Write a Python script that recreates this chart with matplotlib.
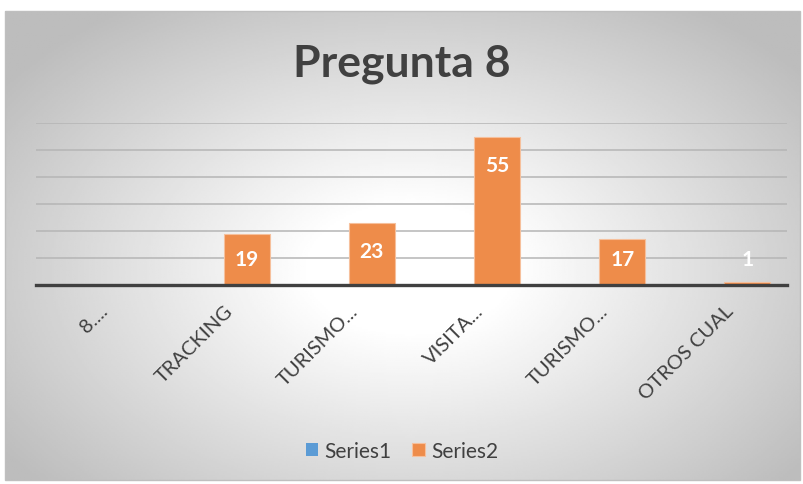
import matplotlib.pyplot as plt
import numpy as np
from matplotlib.patches import Rectangle

categories = ["8....", "TRACKING", "TURISMO...", "VISITA...", "TURISMO...", "OTROS CUAL"]
series1 = [0, 0, 0, 0, 0, 0]
series2 = [0, 19, 23, 55, 17, 1]
series_names = ["Series1", "Series2"]

BLUE = "#5B9BD5"
ORANGE = "#EE8C4A"
TEXT = "#404040"
FONT = "Lato"

fig = plt.figure(figsize=(8.04, 4.85), dpi=100)

# radial gradient background of the chart area
bg = fig.add_axes([0, 0, 1, 1], zorder=-10)
bg.set_xlim(0, 804)
bg.set_ylim(485, 0)
bg.axis("off")
gx, gy = np.meshgrid(np.linspace(5, 800, 400), np.linspace(12, 481, 240))
dist = np.sqrt(((gx - 410) / 500) ** 2 + ((gy - 270) / 320) ** 2)
shade = 1.0 - 0.26 * np.clip((dist - 0.2) / 0.8, 0, 1)
bg.imshow(shade, cmap="gray", vmin=0, vmax=1, extent=(5, 800, 481, 12), aspect="auto")
bg.add_patch(Rectangle((5, 12), 795, 469, fill=False, edgecolor="#bfbfbf", lw=1))

ax = fig.add_axes([36 / 804, 199 / 485, 751 / 804, 162 / 485])
ax.set_facecolor("none")

x = np.arange(len(categories))
width = 0.367
ax.bar(x - width / 2, series1, width, color=BLUE, label=series_names[0])
ax.bar(x + width / 2, series2, width, color=ORANGE, edgecolor="#F6C09C",
       linewidth=0.8, label=series_names[1], zorder=3)

for xi, value in zip(x, series2):
    if value > 0:
        ax.text(xi + width / 2, max(value - 10.5, 9.6), str(value), ha="center",
                va="center", color="white", fontsize=15, fontweight="bold",
                family=FONT, zorder=4)

ax.set_xlim(-0.5, len(categories) - 0.5)
ax.set_ylim(0, 60)
ax.set_yticks([10, 20, 30, 40, 50, 60])
ax.set_yticklabels([])
ax.tick_params(axis="y", length=0)
ax.grid(axis="y", color="#b5b5b5", lw=1.1)
ax.set_axisbelow(True)
for spine in ax.spines.values():
    spine.set_visible(False)
ax.axhline(0, color=TEXT, lw=2.4, zorder=5, clip_on=False)

ax.set_xticks(x)
ax.set_xticklabels(categories, rotation=45, ha="right", rotation_mode="anchor",
                   fontsize=14.5, color=TEXT, family=FONT)
ax.tick_params(axis="x", length=0, pad=12)

fig.text(0.5, 1 - 64 / 485, "Pregunta 8", ha="center", va="center",
         fontsize=32, fontweight="bold", color=TEXT, family=FONT)

handles, labels = ax.get_legend_handles_labels()
fig.legend(handles, labels, loc="center", bbox_to_anchor=(402 / 804, 1 - 452 / 485),
           ncol=2, frameon=False, handlelength=0.6, handleheight=0.6,
           handletextpad=0.3, columnspacing=1.0, prop={"family": FONT, "size": 15},
           labelcolor=TEXT)

fig.savefig("out.png", dpi=100)
